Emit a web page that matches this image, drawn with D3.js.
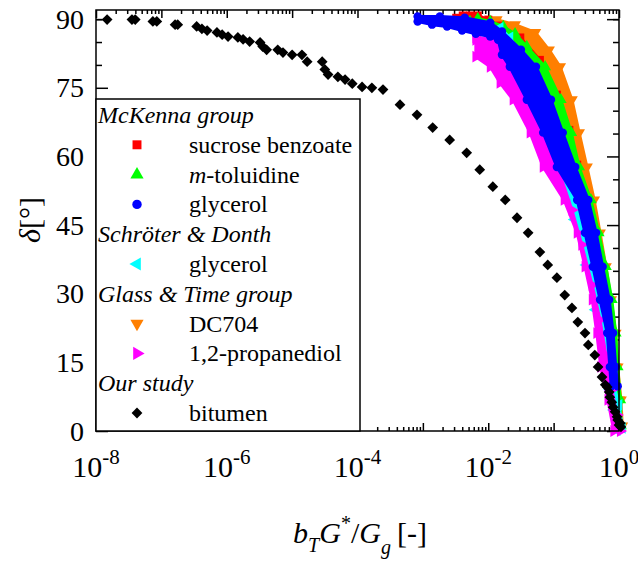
<!DOCTYPE html>
<html>
<head>
<meta charset="utf-8">
<script src="https://cdn.jsdelivr.net/npm/d3@7"></script>
<style>
body { margin: 0; background: #fff; }
</style>
</head>
<body>
<div id="chart"></div>
<script>
// every point is [log10(bT G*/Gg), delta in degrees]
// the coloured data sets are so dense that they are read as bands (upper and lower edge)

const bitumen = [
  [-7.83, 89.9], [-7.45, 89.9], [-7.40, 89.9], [-7.13, 89.5], [-7.07, 89.5],
  [-6.79, 88.8], [-6.75, 88.8], [-6.46, 88.4], [-6.38, 87.9], [-6.30, 87.5],
  [-6.15, 87.1], [-6.07, 86.6], [-5.98, 86.2], [-5.83, 86.0], [-5.75, 85.6],
  [-5.65, 85.1], [-5.49, 84.9], [-5.45, 84.0], [-5.39, 83.3], [-5.22, 83.3],
  [-5.14, 82.7], [-5.00, 82.2], [-4.85, 82.2], [-4.77, 80.7], [-4.54, 80.7],
  [-4.50, 79.0], [-4.45, 77.9], [-4.30, 77.4], [-4.19, 76.8], [-4.08, 75.9],
  [-3.93, 75.2], [-3.78, 75.0], [-3.61, 74.6], [-3.35, 71.3], [-3.09, 69.1],
  [-2.85, 66.3], [-2.59, 63.6], [-2.33, 60.8], [-2.13, 57.1], [-1.93, 53.4],
  [-1.74, 50.5], [-1.56, 46.6], [-1.39, 43.3], [-1.21, 39.1], [-1.09, 36.3],
  [-0.95, 33.5], [-0.83, 29.7], [-0.72, 26.9], [-0.63, 23.8], [-0.52, 21.4],
  [-0.47, 18.8], [-0.37, 16.6], [-0.32, 14.0], [-0.26, 11.8], [-0.21, 10.1],
  [-0.18, 9.6], [-0.15, 8.5], [-0.14, 7.4], [-0.11, 6.3], [-0.09, 5.2],
  [-0.06, 4.2], [-0.03, 3.1], [-0.02, 2.4], [0.00, 1.3], [0.02, 1.7], [0.03, 0.9]
];

const sucroseUpper = [
  [-2.49, 90.3], [-2.39, 90.8], [-2.28, 90.8], [-2.16, 90.8], [-2.00, 89.9],
  [-1.82, 88.6], [-1.51, 86.0], [-1.21, 81.1], [-0.95, 73.5], [-0.76, 65.8],
  [-0.64, 58.2], [-0.47, 50.5], [-0.34, 41.8], [-0.23, 33.0], [-0.14, 24.3],
  [-0.08, 15.5], [-0.02, 6.8], [0.02, 1.1]
];
const sucroseLower = [
  [-2.49, 89.7], [-2.28, 89.7], [-2.00, 88.6], [-1.77, 86.2], [-1.54, 82.2],
  [-1.32, 76.8], [-1.09, 69.1], [-0.85, 60.4], [-0.60, 50.5], [-0.46, 39.6],
  [-0.30, 28.7], [-0.18, 17.7], [-0.09, 6.8], [-0.03, 1.1]
];

const toluidineUpper = [
  [-2.16, 90.1], [-1.97, 89.5], [-1.77, 88.4], [-1.59, 86.8], [-1.41, 84.0],
  [-1.13, 79.6], [-0.89, 72.4], [-0.73, 65.2], [-0.61, 57.7], [-0.43, 50.5],
  [-0.31, 43.3], [-0.20, 35.9], [-0.11, 28.7], [-0.05, 21.4], [-0.02, 14.0],
  [0.02, 6.8], [0.03, 1.1]
];
const toluidineLower = [
  [-2.28, 89.5], [-2.05, 88.1], [-1.88, 86.0], [-1.67, 81.6], [-1.44, 74.6],
  [-1.10, 66.9], [-0.90, 59.3], [-0.60, 50.5], [-0.47, 41.8], [-0.35, 33.0],
  [-0.24, 24.3], [-0.14, 15.5], [-0.09, 6.8], [-0.05, 1.1]
];

const glycerolUpper = [
  [-3.08, 90.6], [-2.74, 90.6], [-2.36, 90.3], [-1.97, 89.2], [-1.79, 87.3],
  [-1.50, 83.3], [-1.27, 79.6], [-1.04, 72.4], [-0.86, 65.2], [-0.67, 57.7],
  [-0.47, 50.5], [-0.35, 43.3], [-0.25, 35.9], [-0.15, 28.7], [-0.09, 21.4],
  [-0.05, 14.0], [-0.02, 9.8]
];
const glycerolLower = [
  [-3.08, 89.5], [-2.86, 88.8], [-2.63, 88.4], [-2.40, 87.5], [-2.19, 86.8],
  [-1.97, 86.2], [-1.85, 85.5], [-1.79, 82.2], [-1.67, 79.6], [-1.41, 72.4],
  [-1.16, 65.2], [-0.95, 57.7], [-0.64, 50.5], [-0.52, 43.3], [-0.40, 35.9],
  [-0.29, 28.7], [-0.18, 21.4], [-0.14, 14.0], [-0.12, 9.8]
];

const donthUpper = [
  [-1.82, 88.1], [-1.67, 86.0], [-1.51, 82.2], [-1.28, 76.3], [-1.06, 68.7],
  [-0.86, 60.4], [-0.66, 50.5], [-0.47, 39.6], [-0.32, 28.7], [-0.18, 17.7],
  [-0.08, 10.1], [0.00, 5.7], [0.05, 0.7]
];
const donthLower = [
  [-1.91, 86.8], [-1.76, 83.3], [-1.61, 79.0], [-1.38, 71.3], [-1.10, 63.6],
  [-0.90, 54.9], [-0.68, 46.2], [-0.50, 36.3], [-0.36, 26.5], [-0.25, 16.6],
  [-0.14, 9.0], [-0.08, 4.6], [-0.03, 0.2]
];

const dc704Upper = [
  [-1.87, 89.9], [-1.59, 88.8], [-1.28, 87.1], [-1.07, 83.3], [-0.90, 79.6],
  [-0.72, 72.4], [-0.61, 65.2], [-0.49, 57.7], [-0.38, 50.5], [-0.29, 43.3],
  [-0.20, 35.9], [-0.12, 28.7], [-0.05, 21.4], [-0.02, 14.0], [0.03, 6.8],
  [0.05, 1.1]
];
const dc704Lower = [
  [-1.91, 88.6], [-1.67, 86.6], [-1.44, 83.3], [-1.24, 79.6], [-1.01, 72.4],
  [-0.83, 65.2], [-0.64, 57.7], [-0.49, 50.5], [-0.37, 43.3], [-0.26, 35.9],
  [-0.17, 28.7], [-0.09, 21.4], [-0.05, 14.0], [0.00, 6.8], [0.02, 1.1]
];

const propanediolUpper = [
  [-2.19, 86.0], [-1.97, 85.7], [-1.82, 85.3], [-1.67, 82.2], [-1.51, 77.9],
  [-1.28, 71.3], [-1.09, 63.6], [-0.90, 56.0], [-0.72, 48.3], [-0.57, 40.7],
  [-0.41, 31.9], [-0.29, 24.3], [-0.20, 16.6], [-0.11, 9.0], [-0.03, 3.5],
  [0.02, 0.0]
];
const propanediolLower = [
  [-2.19, 85.5], [-2.19, 81.8], [-1.97, 79.6], [-1.82, 76.1], [-1.62, 72.4],
  [-1.36, 65.2], [-1.16, 57.7], [-0.84, 50.5], [-0.64, 43.3], [-0.52, 35.9],
  [-0.41, 28.7], [-0.34, 21.4], [-0.28, 14.0], [-0.17, 6.8], [-0.08, 0.0]
];

const xLabelTicks = [1e-8, 1e-6, 1e-4, 1e-2, 1];
const yMajorTicks = [0, 15, 30, 45, 60, 75, 90];
const yMinorTicks = [5, 10, 20, 25, 35, 40, 50, 55, 65, 70, 80, 85, 90];

const legendLabels = ["McKenna group", "sucrose benzoate", "m-toluidine", "glycerol",
  "Schröter & Donth", "glycerol", "Glass & Time group", "DC704", "1,2-propanediol",
  "Our study", "bitumen"];
const legendKeys = [null, "sucrose", "toluidine", "glycerol", null, "donth", null,
  "dc704", "propanediol", null, "bitumen"];

const colors = {
  sucrose: "#ff0000", toluidine: "#00ff00", glycerol: "#0000ff", donth: "#00ffff",
  dc704: "#ff7f00", propanediol: "#ff00ff", bitumen: "#000000"
};

const serif = "'Liberation Serif', 'Times New Roman', serif";
const width = 638, height = 565;

const svg = d3.select('#chart').append('svg')
  .attr('width', width)
  .attr('height', height)
  .style('font-family', serif);

const x = d3.scaleLog().domain([1e-8, 1]).range([96, 619]);
const y = d3.scaleLinear().domain([0, 92]).range([431, 10]);

const px = d => x(Math.pow(10, d[0]));
const py = d => y(d[1]);

// ticks, inside the frame
const majorX = x.ticks().filter(t => Math.abs(Math.log10(t) - Math.round(Math.log10(t))) < 1e-9);
const minorX = x.ticks().filter(t => majorX.indexOf(t) < 0);

function noDomain(g) { g.select('.domain').remove(); }

svg.append('g').attr('transform', 'translate(0,431)')
  .call(d3.axisBottom(x).tickValues(majorX).tickSize(-8).tickFormat('')).call(noDomain);
svg.append('g').attr('transform', 'translate(0,431)')
  .call(d3.axisBottom(x).tickValues(minorX).tickSize(-4).tickFormat('')).call(noDomain);
svg.append('g').attr('transform', 'translate(0,10)')
  .call(d3.axisTop(x).tickValues(majorX).tickSize(-8).tickFormat('')).call(noDomain);
svg.append('g').attr('transform', 'translate(0,10)')
  .call(d3.axisTop(x).tickValues(minorX).tickSize(-4).tickFormat('')).call(noDomain);

svg.append('g').attr('transform', 'translate(96,0)')
  .call(d3.axisLeft(y).tickValues(yMajorTicks).tickSize(-12).tickFormat('')).call(noDomain);
svg.append('g').attr('transform', 'translate(96,0)')
  .call(d3.axisLeft(y).tickValues(yMinorTicks).tickSize(-6).tickFormat('')).call(noDomain);
svg.append('g').attr('transform', 'translate(619,0)')
  .call(d3.axisRight(y).tickValues(yMajorTicks).tickSize(-12).tickFormat('')).call(noDomain);
svg.append('g').attr('transform', 'translate(619,0)')
  .call(d3.axisRight(y).tickValues(yMinorTicks).tickSize(-6).tickFormat('')).call(noDomain);

svg.selectAll('.tick line').attr('stroke', '#000').attr('stroke-width', 1.5);

// marker shapes
const symbols = {
  sucrose: { type: d3.symbolSquare, size: 80, rot: 0 },
  toluidine: { type: d3.symbolTriangle, size: 75, rot: 0 },
  glycerol: { type: d3.symbolCircle, size: 70, rot: 0 },
  donth: { type: d3.symbolTriangle, size: 75, rot: -90 },
  dc704: { type: d3.symbolTriangle, size: 75, rot: 180 },
  propanediol: { type: d3.symbolTriangle, size: 75, rot: 90 },
  bitumen: { type: d3.symbolSquare, size: 58, rot: 45 }
};

// data bands, with the series marker on every edge point
const bandLine = d3.line().x(px).y(py).curve(d3.curveLinearClosed);

function band(upper, lower, key) {
  const g = svg.append('g');
  const color = colors[key];
  const s = symbols[key];
  g.append('path')
    .datum(upper.concat(lower.slice().reverse()))
    .attr('d', bandLine)
    .attr('fill', color)
    .attr('stroke', color)
    .attr('stroke-width', 3)
    .attr('stroke-linejoin', 'round');
  g.selectAll('.m')
    .data(upper.concat(lower))
    .join('path')
    .attr('class', 'm')
    .attr('d', d3.symbol().type(s.type).size(s.size * 0.8))
    .attr('transform', d => 'translate(' + px(d) + ',' + py(d) + ') rotate(' + s.rot + ')')
    .attr('fill', color);
}

band(dc704Upper, dc704Lower, 'dc704');
band(sucroseUpper, sucroseLower, 'sucrose');
band(toluidineUpper, toluidineLower, 'toluidine');
band(donthUpper, donthLower, 'donth');
band(propanediolUpper, propanediolLower, 'propanediol');
band(glycerolUpper, glycerolLower, 'glycerol');

svg.append('g').selectAll('path')
  .data(bitumen)
  .join('path')
  .attr('d', d3.symbol().type(symbols.bitumen.type).size(symbols.bitumen.size))
  .attr('transform', d => 'translate(' + px(d) + ',' + py(d) + ') rotate(45)')
  .attr('fill', colors.bitumen);

// frame
svg.append('rect')
  .attr('x', 96).attr('y', 10)
  .attr('width', 619 - 96).attr('height', 431 - 10)
  .attr('fill', 'none').attr('stroke', '#000').attr('stroke-width', 1.5);

// tick labels
const xl = svg.append('g').selectAll('text')
  .data(xLabelTicks)
  .join('text')
  .attr('x', d => x(d))
  .attr('y', 477)
  .attr('text-anchor', 'middle')
  .style('font-size', '30px');
xl.append('tspan').text('10');
xl.append('tspan')
  .attr('dy', -13)
  .style('font-size', '21px')
  .text(d => String(Math.round(Math.log10(d))));

svg.append('g').selectAll('text')
  .data(yMajorTicks)
  .join('text')
  .attr('x', 84)
  .attr('y', d => y(d))
  .attr('dy', '0.34em')
  .attr('text-anchor', 'end')
  .style('font-size', '28px')
  .text(d => d);

// axis titles
const yt = svg.append('text')
  .attr('transform', 'translate(40,220) rotate(-90)')
  .attr('text-anchor', 'middle')
  .style('font-size', '30px');
yt.append('tspan').style('font-style', 'italic').text('δ');
yt.append('tspan').text('[°]');

const xt = svg.append('text')
  .attr('x', 360).attr('y', 543)
  .attr('text-anchor', 'middle')
  .style('font-size', '30px');
xt.append('tspan').style('font-style', 'italic').text('b');
xt.append('tspan').style('font-style', 'italic').style('font-size', '20px').attr('dy', 9).text('T');
xt.append('tspan').style('font-style', 'italic').attr('dy', -9).text('G');
xt.append('tspan').style('font-size', '20px').attr('dy', -13).text('*');
xt.append('tspan').attr('dy', 13).text('/');
xt.append('tspan').style('font-style', 'italic').text('G');
xt.append('tspan').style('font-style', 'italic').style('font-size', '20px').attr('dy', 11).text('g');
xt.append('tspan').attr('dy', -11).attr('dx', 6).text('[-]');

// legend
const legend = svg.append('g');
legend.append('rect')
  .attr('x', 96).attr('y', 99)
  .attr('width', 360 - 96).attr('height', 431 - 99)
  .attr('fill', '#fff').attr('stroke', '#000').attr('stroke-width', 1.5);

legendLabels.forEach(function(label, i) {
  const key = legendKeys[i];
  const base = 123 + i * 29.8;
  if (key === null) {
    legend.append('text')
      .attr('x', 98).attr('y', base)
      .style('font-size', '24px').style('font-style', 'italic')
      .text(label);
    return;
  }
  const s = symbols[key];
  legend.append('path')
    .attr('d', d3.symbol().type(s.type).size(s.size))
    .attr('transform', 'translate(137,' + (base - 8) + ') rotate(' + s.rot + ')')
    .attr('fill', colors[key]);
  const t = legend.append('text')
    .attr('x', 189).attr('y', base)
    .style('font-size', '24px');
  if (label === 'm-toluidine') {
    t.append('tspan').style('font-style', 'italic').text('m');
    t.append('tspan').text('-toluidine');
  } else {
    t.text(label);
  }
});
</script>
</body>
</html>
